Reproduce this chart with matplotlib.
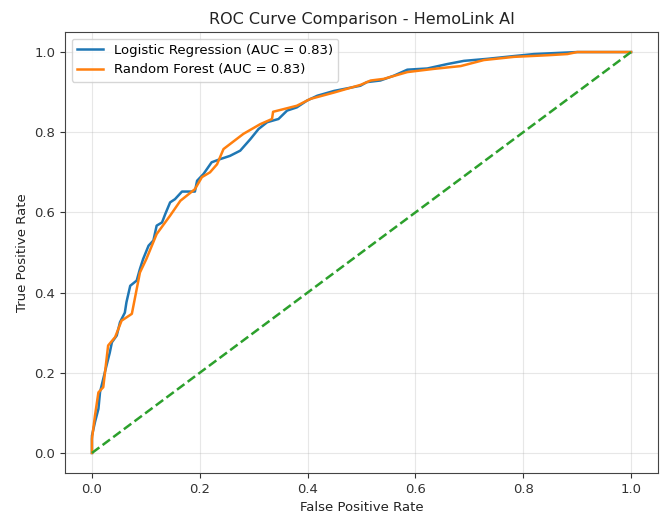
import matplotlib
matplotlib.use("Agg")
import matplotlib.pyplot as plt

# Logistic Regression ROC
lr_fpr = [0.0, 0.0, 0.0056, 0.012, 0.015, 0.021, 0.027, 0.033, 0.037, 0.046, 0.052, 0.061, 0.064,
          0.071, 0.083, 0.089, 0.095, 0.105, 0.114, 0.12, 0.13, 0.136, 0.145, 0.154, 0.167, 0.191,
          0.195, 0.207, 0.222, 0.238, 0.256, 0.275, 0.294, 0.309, 0.325, 0.346, 0.362, 0.38, 0.399,
          0.418, 0.449, 0.498, 0.51, 0.535, 0.56, 0.585, 0.622, 0.659, 0.69, 0.733, 0.783, 0.82,
          0.9, 1.0]
lr_tpr = [0.0, 0.043, 0.077, 0.11, 0.152, 0.185, 0.218, 0.25, 0.276, 0.293, 0.326, 0.35, 0.376,
          0.417, 0.43, 0.459, 0.484, 0.517, 0.53, 0.567, 0.575, 0.596, 0.625, 0.633, 0.652, 0.652,
          0.679, 0.696, 0.725, 0.733, 0.741, 0.754, 0.783, 0.808, 0.825, 0.833, 0.854, 0.862, 0.879,
          0.891, 0.903, 0.916, 0.925, 0.929, 0.941, 0.956, 0.959, 0.97, 0.978, 0.983, 0.99, 0.995,
          1.0, 1.0]

# Random Forest ROC
rf_fpr = [0.0, 0.0, 0.0056, 0.012, 0.021, 0.03, 0.043, 0.055, 0.074, 0.089, 0.101, 0.12, 0.145,
          0.164, 0.191, 0.204, 0.219, 0.232, 0.244, 0.281, 0.312, 0.334, 0.336, 0.38, 0.405, 0.449,
          0.498, 0.517, 0.541, 0.585, 0.634, 0.684, 0.727, 0.783, 0.845, 0.882, 0.9, 1.0]
rf_tpr = [0.0, 0.035, 0.093, 0.151, 0.164, 0.268, 0.289, 0.33, 0.347, 0.45, 0.484, 0.546, 0.592,
          0.629, 0.658, 0.688, 0.7, 0.72, 0.758, 0.796, 0.82, 0.833, 0.851, 0.866, 0.883, 0.899,
          0.918, 0.929, 0.933, 0.95, 0.958, 0.965, 0.98, 0.988, 0.992, 0.995, 1.0, 1.0]

lr_label = "Logistic Regression (AUC = 0.83)"
rf_label = "Random Forest (AUC = 0.83)"
chance = [0, 1]

fig = plt.figure(figsize=(6.61, 5.15), dpi=100)
ax = fig.add_axes([65/661, 1 - 473/515, (658 - 65)/661, (473 - 32)/515])

ax.plot(lr_fpr, lr_tpr, color="#1f77b4", lw=1.8, label=lr_label)
ax.plot(rf_fpr, rf_tpr, color="#ff7f0e", lw=1.8, label=rf_label)
ax.plot(chance, chance, color="#2ca02c", ls="--", lw=1.8)

ax.set_title("ROC Curve Comparison - HemoLink AI", fontsize=11.5, color="#222222")
ax.set_xlabel("False Positive Rate", fontsize=9.5, color="#222222")
ax.set_ylabel("True Positive Rate", fontsize=9.5, color="#222222")
ax.tick_params(labelsize=9.5, colors="#333333")
ax.legend(loc="upper left", fontsize=9.5)
ax.grid(True, alpha=0.3)
for s in ax.spines.values():
    s.set_color("#444444")

fig.savefig("out.png", dpi=100)
